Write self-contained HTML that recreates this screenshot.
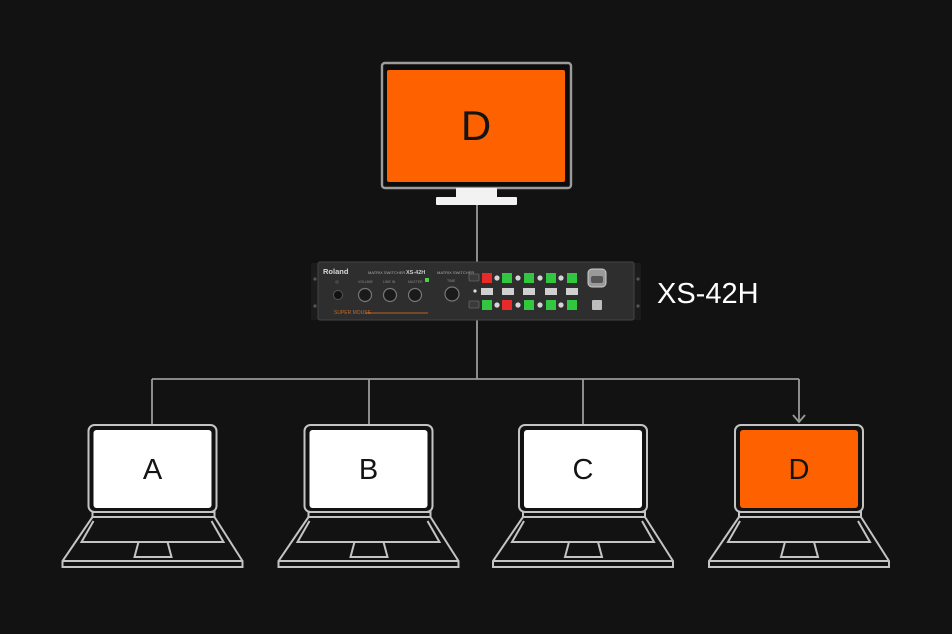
<!DOCTYPE html>
<html><head><meta charset="utf-8">
<style>
html,body{margin:0;padding:0;background:#121212;}
svg{display:block;}
</style></head>
<body>
<svg width="952" height="634" viewBox="0 0 952 634" xmlns="http://www.w3.org/2000/svg">
<rect width="952" height="634" fill="#121212"/>

<!-- connectors -->
<g stroke="#9a9a9a" stroke-width="1.8" fill="none">
<line x1="477" y1="205" x2="477" y2="263"/>
<line x1="477" y1="320" x2="477" y2="379"/>
<line x1="152" y1="379" x2="799" y2="379"/>
<line x1="152" y1="379" x2="152" y2="426"/>
<line x1="369" y1="379" x2="369" y2="426"/>
<line x1="583" y1="379" x2="583" y2="426"/>
<line x1="799" y1="379" x2="799" y2="422"/>
<polyline points="793,415 799,422 805,415"/>
</g>

<!-- monitor -->
<rect x="382" y="63" width="189" height="125" rx="3" fill="#0c0c0c" stroke="#9c9c9c" stroke-width="2.4"/>
<rect x="387" y="70" width="178" height="112" rx="2" fill="#fd6100"/>
<rect x="456" y="188" width="41" height="10" fill="#f2f2f2"/>
<rect x="436" y="197" width="81" height="8" rx="1" fill="#f2f2f2"/>
<text x="476" y="140" font-family="Liberation Sans, sans-serif" font-size="42" fill="#141414" text-anchor="middle">D</text>

<!-- device -->
<g>
<rect x="311" y="263" width="330" height="57" rx="2" fill="#1c1c1c"/>
<rect x="318" y="262" width="316" height="58" rx="2" fill="#2e2e2e" stroke="#444" stroke-width="1"/>
<circle cx="315" cy="279" r="1.6" fill="#555"/>
<circle cx="315" cy="306" r="1.6" fill="#555"/>
<circle cx="638" cy="279" r="1.6" fill="#555"/>
<circle cx="638" cy="306" r="1.6" fill="#555"/>
<text x="323" y="274" font-family="Liberation Sans, sans-serif" font-size="7.5" font-weight="bold" fill="#d8d8d8">Roland</text>
<text x="368" y="274" font-family="Liberation Sans, sans-serif" font-size="4" fill="#aaa">MATRIX SWITCHER</text>
<text x="406" y="274" font-family="Liberation Sans, sans-serif" font-size="5.5" font-weight="bold" fill="#ccc">XS-42H</text>
<text x="437" y="274" font-family="Liberation Sans, sans-serif" font-size="4" fill="#aaa">MATRIX SWITCHER</text>
<circle cx="337" cy="282" r="2" fill="#444"/>
<circle cx="338" cy="295" r="4.5" fill="#111" stroke="#555" stroke-width="1"/>
<g fill="#1a1a1a" stroke="#777" stroke-width="1.2">
<circle cx="365" cy="295" r="6.5"/>
<circle cx="390" cy="295" r="6.5"/>
<circle cx="415" cy="295" r="6.5"/>
<circle cx="452" cy="294" r="7"/>
</g>
<g fill="#888" font-family="Liberation Sans, sans-serif" font-size="3.5">
<text x="358" y="283">VOLUME</text>
<text x="383" y="283">LINE IN</text>
<text x="408" y="283">MASTER</text>
<text x="447" y="282">TIME</text>
</g>
<rect x="425" y="278" width="4" height="4" fill="#4cd04c"/>
<text x="334" y="314" font-family="Liberation Sans, sans-serif" font-size="5" fill="#c06a2a">SUPER MOUSE</text>
<line x1="365" y1="313" x2="428" y2="313" stroke="#a0582a" stroke-width="1.2"/>
<rect x="469" y="274" width="10" height="7" rx="1" fill="#3a3a3a" stroke="#666" stroke-width="0.8"/>
<rect x="469" y="301" width="10" height="7" rx="1" fill="#3a3a3a" stroke="#666" stroke-width="0.8"/>
<circle cx="475" cy="291" r="1.6" fill="#ddd"/>
<!-- row1 -->
<rect x="482" y="273" width="10" height="10" fill="#e82a2a"/>
<rect x="502" y="273" width="10" height="10" fill="#31c73f"/>
<rect x="524" y="273" width="10" height="10" fill="#31c73f"/>
<rect x="546" y="273" width="10" height="10" fill="#31c73f"/>
<rect x="567" y="273" width="10" height="10" fill="#31c73f"/>
<g fill="#d6d6d6">
<circle cx="497" cy="278" r="2.6"/><circle cx="518" cy="278" r="2.6"/><circle cx="540" cy="278" r="2.6"/><circle cx="561" cy="278" r="2.6"/>
</g>
<!-- row2 -->
<g fill="#d0d0d0">
<rect x="481" y="288" width="12" height="7"/><rect x="502" y="288" width="12" height="7"/><rect x="523" y="288" width="12" height="7"/><rect x="545" y="288" width="12" height="7"/><rect x="566" y="288" width="12" height="7"/>
</g>
<!-- row3 -->
<rect x="482" y="300" width="10" height="10" fill="#31c73f"/>
<rect x="502" y="300" width="10" height="10" fill="#e82a2a"/>
<rect x="524" y="300" width="10" height="10" fill="#31c73f"/>
<rect x="546" y="300" width="10" height="10" fill="#31c73f"/>
<rect x="567" y="300" width="10" height="10" fill="#31c73f"/>
<g fill="#d6d6d6">
<circle cx="497" cy="305" r="2.6"/><circle cx="518" cy="305" r="2.6"/><circle cx="540" cy="305" r="2.6"/><circle cx="561" cy="305" r="2.6"/>
</g>
<rect x="588" y="269" width="18" height="18" rx="4" fill="#9a9a9a" stroke="#ccc" stroke-width="1"/>
<rect x="591" y="276" width="12" height="7" rx="2" fill="#555"/>
<rect x="592" y="300" width="10" height="10" rx="1" fill="#bdbdbd"/>
</g>
<text x="657" y="303" font-family="Liberation Sans, sans-serif" font-size="29" fill="#ffffff">XS-42H</text>

<!-- laptops -->
<defs>
<g id="lap" fill="none" stroke="#c4c4c4" stroke-width="2">
<rect x="-64" y="425" width="128" height="87" rx="6"/>
<rect x="-60" y="512" width="122" height="5"/>
<path d="M-60 517 L-90 561 L-90 567 L90 567 L90 561 L62 517"/>
<line x1="-90" y1="561" x2="90" y2="561"/>
<path d="M-59 521 L-71 542 L71 542 L59 521"/>
<path d="M-14 542 L-18 557 L19 557 L15 542"/>
</g>
</defs>
<g font-family="Liberation Sans, sans-serif" font-size="29" text-anchor="middle" fill="#141414">
<use href="#lap" x="152.5" y="0"/>
<rect x="93.5" y="430" width="118" height="78" rx="3" fill="#ffffff"/>
<text x="152.5" y="479">A</text>

<use href="#lap" x="368.5" y="0"/>
<rect x="309.5" y="430" width="118" height="78" rx="3" fill="#ffffff"/>
<text x="368.5" y="479">B</text>

<use href="#lap" x="583" y="0"/>
<rect x="524" y="430" width="118" height="78" rx="3" fill="#ffffff"/>
<text x="583" y="479">C</text>

<use href="#lap" x="799" y="0"/>
<rect x="740" y="430" width="118" height="78" rx="3" fill="#fd6100"/>
<text x="799" y="479">D</text>
</g>
</svg>
</body></html>
